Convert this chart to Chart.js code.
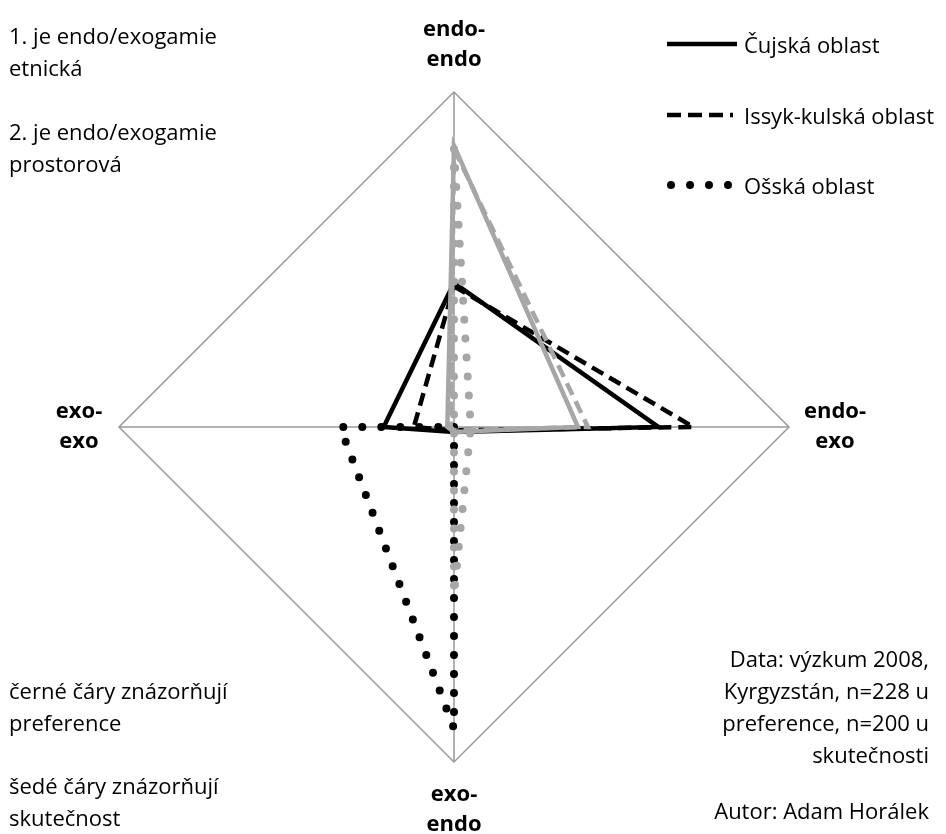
<!DOCTYPE html>
<html>
<head>
<meta charset="utf-8">
<script src="https://cdn.jsdelivr.net/npm/chart.js@4.4.0/dist/chart.umd.min.js"></script>
<style>
  body { margin: 0; background: #fff; font-family: "Open Sans", sans-serif; color: #000; }
  #wrap { position: relative; width: 946px; height: 834px; overflow: hidden; }
  canvas { position: absolute; left: 0; top: 0; }
  .txt { position: absolute; font-size: 22px; line-height: 32px; white-space: nowrap; }
  .right { text-align: right; }
  .leg { position: absolute; left: 665px; font-size: 22px; white-space: nowrap; }
  .leg svg { position: absolute; left: 0; top: 0; }
  .leg span { position: absolute; left: 79px; top: -16px; line-height: 32px; }
</style>
</head>
<body>
<div id="wrap">
  <canvas id="myChart" width="946" height="834"></canvas>

  <div class="txt" style="left:9px; top:19px;">1. je endo/exogamie<br>etnická</div>
  <div class="txt" style="left:9px; top:115px;">2. je endo/exogamie<br>prostorová</div>
  <div class="txt" style="left:9px; top:674px;">černé čáry znázorňují<br>preference</div>
  <div class="txt" style="left:9px; top:769px;">šedé čáry znázorňují<br>skutečnost</div>
  <div class="txt right" style="right:17px; top:642px;">Data: výzkum 2008,<br>Kyrgyzstán, n=228 u<br>preference, n=200 u<br>skutečnosti</div>
  <div class="txt right" style="right:17px; top:794px;">Autor: Adam Horálek</div>

  <div class="leg" style="top:44px;">
    <svg width="80" height="12" style="top:-6px"><line x1="2" y1="6" x2="72" y2="6" stroke="#000" stroke-width="4.5"/></svg>
    <span>Čujská oblast</span>
  </div>
  <div class="leg" style="top:115px;">
    <svg width="80" height="12" style="top:-6px"><line x1="2" y1="6" x2="68" y2="6" stroke="#000" stroke-width="4.5" stroke-dasharray="14 7"/></svg>
    <span>Issyk-kulská oblast</span>
  </div>
  <div class="leg" style="top:185px;">
    <svg width="80" height="12" style="top:-6px"><line x1="6" y1="6" x2="66" y2="6" stroke="#000" stroke-width="8" stroke-linecap="round" stroke-dasharray="0 19"/></svg>
    <span>Ošská oblast</span>
  </div>
</div>

<script>
// osy: nahoře, vpravo, dole, vlevo
var labels = ['endo-endo', 'endo-exo', 'exo-endo', 'exo-exo'];

// preference (černé čáry)
var cujPref = [0.43, 0.61, 0.015, 0.21];
var issykPref = [0.42, 0.715, 0.01, 0.12];
var osPref = [0.0, 0.0, 0.90, 0.34];

// skutečnost (šedé čáry)
var cujReal = [0.84, 0.37, 0.015, 0.02];
var issykReal = [0.83, 0.40, 0.01, 0.01];
var osReal = [0.83, 0.05, 0.50, 0.0];

var black = '#000000';
var grey = '#a6a6a6';

function lineSet(label, data, color, kind) {
    var ds = {
        label: label,
        data: data,
        borderColor: color,
        backgroundColor: 'transparent',
        fill: false,
        pointRadius: 0,
        pointHoverRadius: 0,
        borderWidth: 4.5
    };
    if (kind == 'dash') {
        ds.borderDash = [13, 7];
    } else if (kind == 'dot') {
        ds.borderDash = [0, 19];
        ds.borderCapStyle = 'round';
        ds.borderWidth = 8;
    }
    return ds;
}

// popisky os (dva řádky, tučně)
var axisLabels = {
    id: 'axisLabels',
    afterDraw: function (chart) {
        var scale = chart.scales.r;
        var ctx = chart.ctx;
        ctx.save();
        ctx.font = 'bold 22px "Open Sans", sans-serif';
        ctx.fillStyle = '#000';
        ctx.textAlign = 'center';
        ctx.textBaseline = 'middle';
        var dist = [47, 46, 48, 40];
        for (let i = 0; i < labels.length; i++) {
            var pos = scale.getPointPosition(i, scale.drawingArea + dist[i]);
            var parts = labels[i].split('-');
            ctx.fillText(parts[0] + '-', pos.x, pos.y - 15);
            ctx.fillText(parts[1], pos.x, pos.y + 15);
        }
        ctx.restore();
    }
};

// šedé řady první -> kreslí se navrchu
var chart = new Chart('myChart', {
    type: 'radar',
    data: {
        labels: labels,
        datasets: [
            lineSet('Čujská oblast (skutečnost)', cujReal, grey, 'solid'),
            lineSet('Issyk-kulská oblast (skutečnost)', issykReal, grey, 'dash'),
            lineSet('Ošská oblast (skutečnost)', osReal, grey, 'dot'),
            lineSet('Čujská oblast', cujPref, black, 'solid'),
            lineSet('Issyk-kulská oblast', issykPref, black, 'dash'),
            lineSet('Ošská oblast', osPref, black, 'dot')
        ]
    },
    options: {
        responsive: false,
        animation: false,
        devicePixelRatio: 1,
        layout: { padding: { left: 119, right: 157, top: 92, bottom: 72 } },
        elements: { line: { tension: 0 } },
        plugins: {
            legend: { display: false },
            tooltip: { enabled: false }
        },
        scales: {
            r: {
                min: 0,
                max: 1,
                ticks: { display: false, stepSize: 1 },
                grid: { color: '#999999', lineWidth: 1.5 },
                angleLines: { color: '#999999', lineWidth: 1.5 },
                pointLabels: { display: false }
            }
        }
    },
    plugins: [axisLabels]
});
</script>
</body>
</html>
